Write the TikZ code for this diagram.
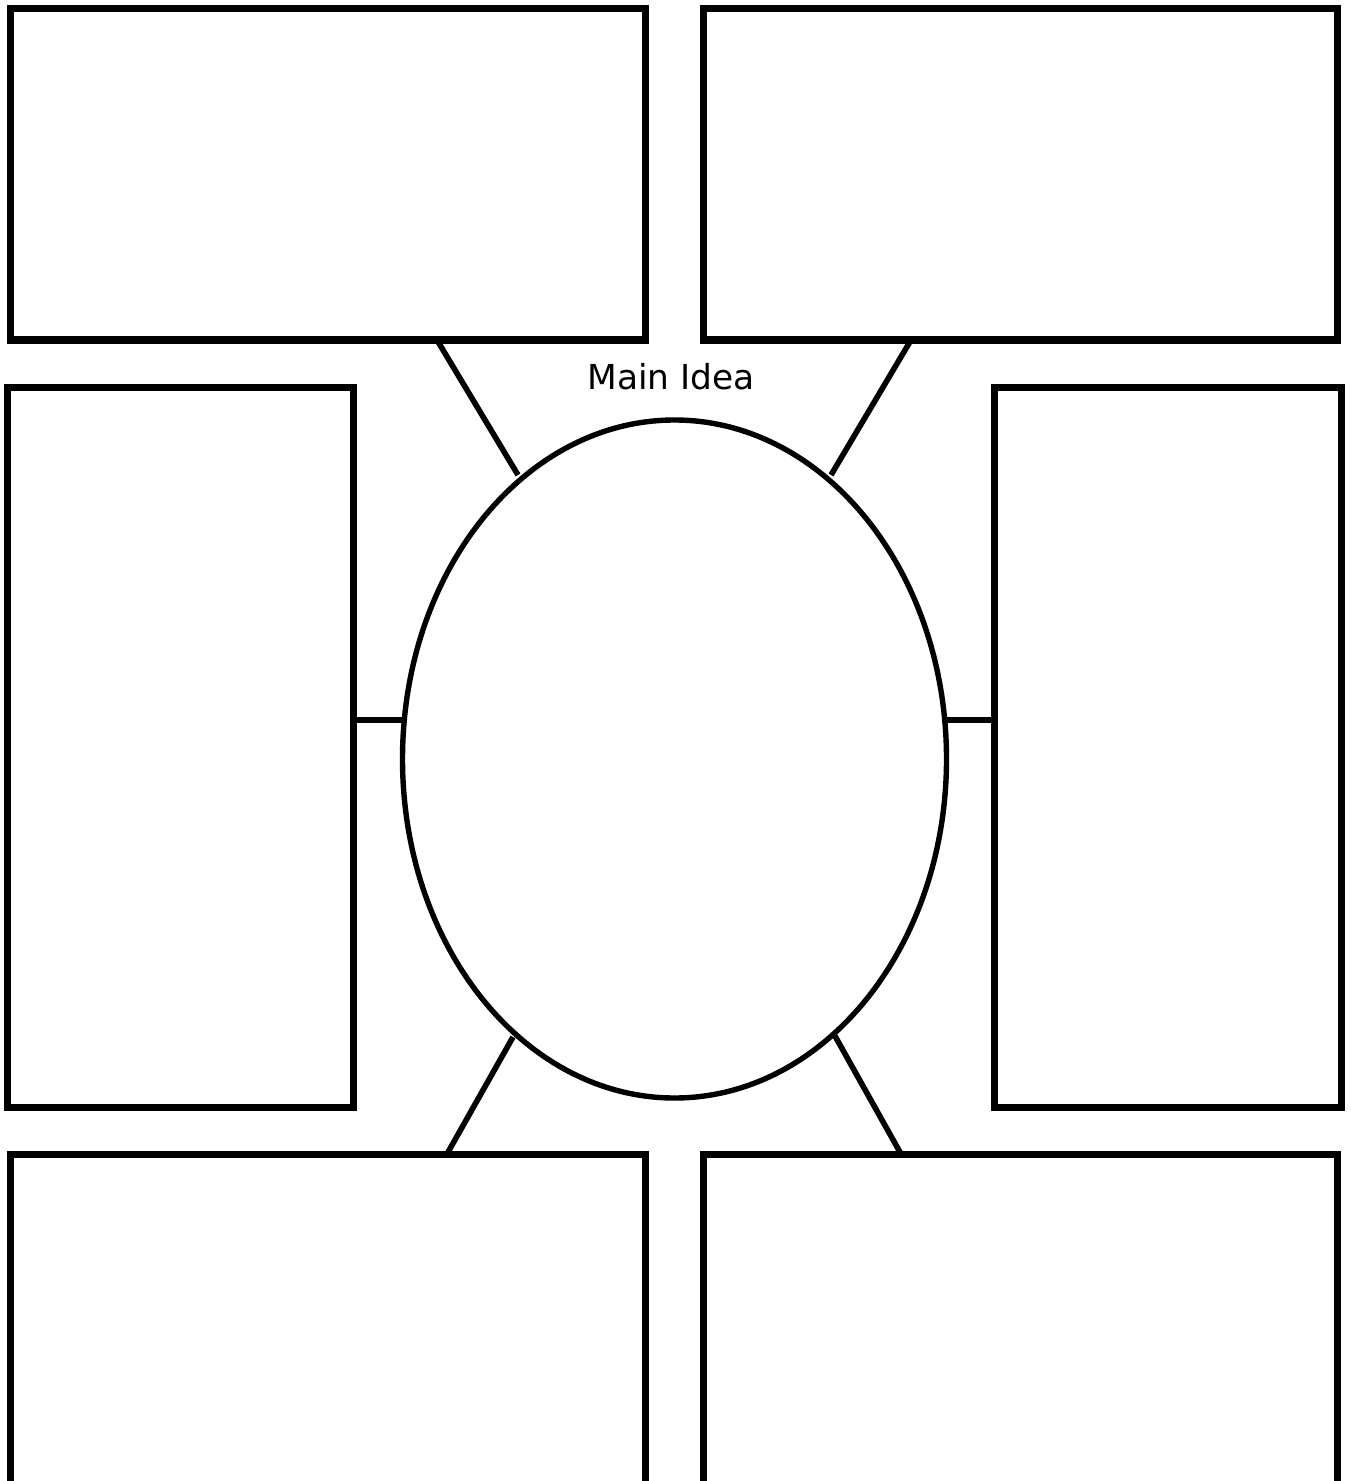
\documentclass[tikz,border=0pt]{standalone}
\usepackage{fontspec}
\setmainfont{DejaVu Sans}
\usetikzlibrary{shapes.geometric,calc}
\begin{document}
\begin{tikzpicture}[x=0.5pt,y=-0.5pt,
  box/.style={draw=black,line width=3.5pt,rectangle,inner sep=0pt,outer sep=0pt,fill=none},
  oval/.style={draw=black,line width=2.7pt,ellipse,inner sep=0pt,outer sep=0pt,minimum width=272pt,minimum height=339pt},
  link/.style={draw=black,line width=2.8pt},
  label/.style={font=\fontsize{17.2pt}{19pt}\selectfont,text=black,inner sep=0pt}]
\useasboundingbox (0,0) rectangle (1350,1481);
\clip (0,0) rectangle (1350,1481);
\fill[white] (0,0) rectangle (1350,1481);
\node[box,minimum width=317.5pt,minimum height=165.5pt] (tl) at (327.5,174.5) {};
\node[box,minimum width=317pt,minimum height=165.5pt] (tr) at (1020,174.5) {};
\node[box,minimum width=173pt,minimum height=360pt] (ml) at (180,747) {};
\node[box,minimum width=173.5pt,minimum height=360pt] (mr) at (1167.5,747) {};
\node[box,minimum width=317.5pt,minimum height=188pt] (bl) at (327.5,1342) {};
\node[box,minimum width=317pt,minimum height=188pt] (br) at (1020,1342) {};
\node[oval] (e) at (674.5,759) {};
\node[label] (t) at (671,377) {Main Idea};
\coordinate (ctl) at ($(tl.south west)+(427,0)$);
\coordinate (ctr) at ($(tr.south west)+(208,0)$);
\coordinate (cbl) at ($(bl.north west)+(437,0)$);
\coordinate (cbr) at ($(br.north west)+(198,0)$);
\coordinate (etl) at ($(e.center)+(-156.5,-284)$);
\coordinate (etr) at ($(e.center)+(156.5,-284)$);
\coordinate (ebl) at ($(e.center)+(-161.5,278)$);
\coordinate (ebr) at ($(e.center)+(160.5,277)$);
\coordinate (eml) at ($(e.center)+(-270.5,-39)$);
\coordinate (emr) at ($(e.center)+(270.5,-39)$);
\draw[link] (ctl) -- (etl);
\draw[link] (ctr) -- (etr);
\draw[link] (cbl) -- (ebl);
\draw[link] (cbr) -- (ebr);
\draw[link] (eml) -- (eml -| ml.east);
\draw[link] (emr) -- (emr -| mr.west);
\end{tikzpicture}
\end{document}
